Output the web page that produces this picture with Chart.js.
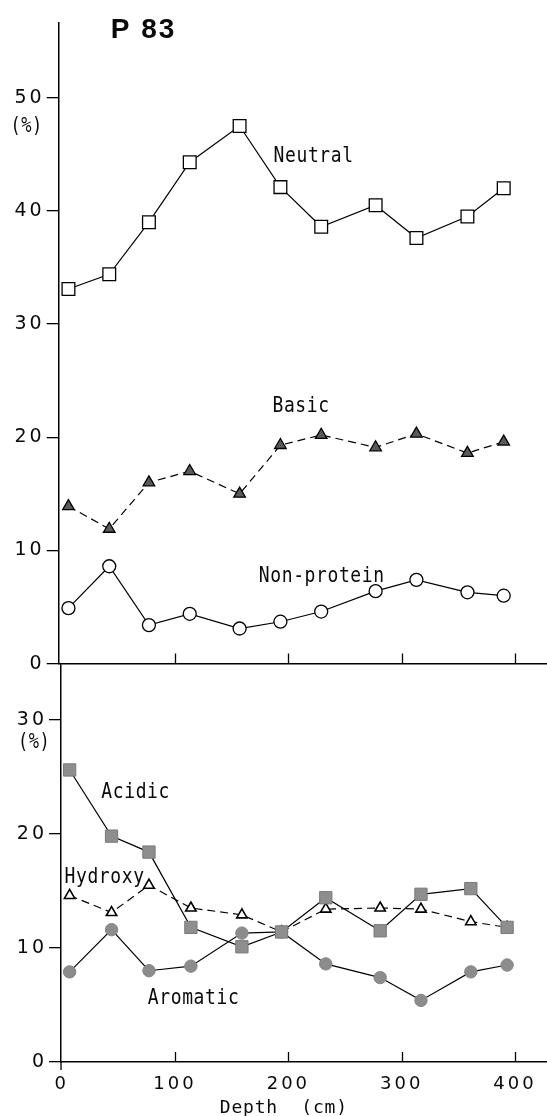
<!DOCTYPE html>
<html lang="en">
<head>
  <meta charset="UTF-8">
  <title>P 83 – amino acid groups vs depth</title>
  <script src="https://cdn.jsdelivr.net/npm/chart.js"></script>
  <style>
    body {
      margin: 0;
      background: #fff;
    }

    .sheet {
      position: relative;
      width: 547px;
      height: 1116px;
    }

    canvas {
      position: absolute;
      left: 0;
    }

    #topChart { top: 0; }
    #bottomChart { top: 645px; }
  </style>
</head>
<body>

  <div class="sheet">
    <canvas id="topChart" width="547" height="677"></canvas>
    <canvas id="bottomChart" width="547" height="471"></canvas>
  </div>

  <script>
    // sample depths (cm), read per panel
    const depthTop    = [6, 42, 77, 113, 157, 193, 229, 277, 313, 358, 390];
    const depthBottom = [7, 44, 77, 114, 159, 194, 233, 281, 317, 361, 393];

    // upper panel (%)
    const neutral    = [33.1, 34.4, 39.0, 44.3, 47.5, 42.1, 38.6, 40.5, 37.6, 39.5, 42.0];
    const basic      = [13.9, 11.9, 16.0, 17.0, 15.0, 19.3, 20.2, 19.1, 20.3, 18.6, 19.6];
    const nonProtein = [4.9, 8.6, 3.4, 4.4, 3.1, 3.7, 4.6, 6.4, 7.4, 6.3, 6.0];

    // lower panel (%)
    const acidic   = [25.6, 19.8, 18.4, 11.8, 10.1, 11.4, 14.4, 11.5, 14.7, 15.2, 11.8];
    const hydroxy  = [14.6, 13.1, 15.5, 13.5, 12.9, 11.4, 13.4, 13.5, 13.4, 12.3, 11.8];
    const aromatic = [7.9, 11.6, 8.0, 8.4, 11.3, 11.4, 8.6, 7.4, 5.4, 7.9, 8.5];

    // tick labels
    const xTicks       = [0, 100, 200, 300, 400];
    const yTicksTop    = [0, 10, 20, 30, 40, 50];
    const yTicksBottom = [0, 10, 20, 30];

    // where the curve names sit (data units)
    const notesTop = [
      { text: 'Neutral', x: 187, y: 44.3 },
      { text: 'Basic', x: 186, y: 22.2 },
      { text: 'Non-protein', x: 174, y: 7.2 }
    ];
    const notesBottom = [
      { text: 'Acidic', x: 35, y: 23.1 },
      { text: 'Hydroxy', x: 2.5, y: 15.7 },
      { text: 'Aromatic', x: 76, y: 5.1 }
    ];

    const INK = '#0a0a0a';

    // text on the panels + inward x ticks
    const panelText = {
      id: 'panelText',
      beforeDraw(chart) {
        chart.ctx.letterSpacing = '3px';
      },
      afterDatasetsDraw(chart, args, opts) {
        const ctx = chart.ctx;
        const { x, y } = chart.scales;
        const area = chart.chartArea;

        ctx.save();
        ctx.strokeStyle = '#000';
        ctx.lineWidth = 1.3;
        ctx.beginPath();
        xTicks.slice(1).forEach(v => {
          const px = Math.round(x.getPixelForValue(v)) + 0.5;
          ctx.moveTo(px, area.bottom);
          ctx.lineTo(px, area.bottom - 10);
        });
        if (opts.stub) {
          ctx.moveTo(area.left, area.bottom);
          ctx.lineTo(area.left, area.bottom + opts.stub);
        }
        ctx.stroke();

        ctx.fillStyle = INK;
        ctx.textBaseline = 'alphabetic';
        ctx.textAlign = 'left';
        ctx.font = '18px "DejaVu Sans Mono"';
        ctx.letterSpacing = '0.6px';
        opts.notes.forEach(n => {
          ctx.save();
          ctx.translate(x.getPixelForValue(n.x), y.getPixelForValue(n.y));
          ctx.scale(1, 1.15);
          ctx.fillText(n.text, 0, 0);
          ctx.restore();
        });

        // (%) unit under the top tick
        ctx.save();
        ctx.font = '17px "DejaVu Sans Mono"';
        ctx.letterSpacing = '0.5px';
        ctx.textAlign = 'center';
        ctx.textBaseline = 'middle';
        ctx.translate(x.getPixelForValue(opts.unit.x), y.getPixelForValue(opts.unit.y));
        ctx.scale(1, 1.2);
        ctx.fillText('(%)', 0, 0);
        ctx.restore();

        if (opts.title) {
          ctx.font = 'bold 28px "Liberation Sans"';
          ctx.letterSpacing = '2px';
          ctx.fillText(opts.title.text, x.getPixelForValue(opts.title.x), y.getPixelForValue(opts.title.y));
        }

        if (opts.axisTitle) {
          ctx.font = '18px "DejaVu Sans Mono"';
          ctx.letterSpacing = '0.8px';
          ctx.textAlign = 'center';
          ctx.fillText(opts.axisTitle.text, x.getPixelForValue(opts.axisTitle.x), area.bottom + opts.axisTitle.dy);
        }
        ctx.restore();
      },
      afterDraw(chart) {
        chart.ctx.letterSpacing = '0px';
      }
    };

    function series(label, depths, values, style) {
      return Object.assign({
        label: label,
        data: depths.map((d, i) => ({ x: d, y: values[i] })),
        borderColor: '#000',
        borderWidth: 1.2,
        pointBorderColor: '#000',
        pointBorderWidth: 1.3,
        tension: 0
      }, style);
    }

    function axes(xMin, yMax, yTicks, leftWidth, xHeight, showX) {
      return {
        x: {
          type: 'linear',
          min: xMin,
          max: 428.2,
          afterBuildTicks: s => { s.ticks = xTicks.map(v => ({ value: v })); },
          afterFit: s => { s.height = xHeight; },
          grid: { drawOnChartArea: false, drawTicks: false },
          border: { color: '#000', width: 1.5 },
          ticks: {
            display: showX,
            color: INK,
            padding: 12,
            font: { family: 'DejaVu Sans', size: 18 }
          }
        },
        y: {
          min: 0,
          max: yMax,
          afterBuildTicks: s => { s.ticks = yTicks.map(v => ({ value: v })); },
          afterFit: s => { s.width = leftWidth; },
          grid: { drawOnChartArea: false, tickLength: 12, color: '#000', lineWidth: 1.3 },
          border: { color: '#000', width: 1.5 },
          ticks: {
            color: INK,
            padding: 2,
            font: { family: 'DejaVu Sans', size: 19 }
          }
        }
      };
    }

    new Chart(document.getElementById('topChart'), {
      type: 'line',
      data: {
        datasets: [
          series('Neutral', depthTop, neutral, {
            pointStyle: 'rect', pointRadius: 9, pointBackgroundColor: '#fff'
          }),
          series('Basic', depthTop, basic, {
            borderDash: [8, 5], pointStyle: 'triangle', pointRadius: 6.7,
            pointBackgroundColor: '#5a5a5a'
          }),
          series('Non-protein', depthTop, nonProtein, {
            pointStyle: 'circle', pointRadius: 6.5, pointBackgroundColor: '#fff'
          })
        ]
      },
      options: {
        responsive: false,
        animation: false,
        layout: { autoPadding: false, padding: { top: 23, left: 0, right: 0, bottom: 0 } },
        plugins: {
          legend: { display: false },
          tooltip: { enabled: false },
          panelText: {
            notes: notesTop,
            unit: { x: -31, y: 47.4 },
            title: { text: 'P 83', x: 43.4, y: 55.3 }
          }
        },
        scales: axes(-2.6, 56.6, yTicksTop, 58.7, 12, false)
      },
      plugins: [panelText]
    });

    new Chart(document.getElementById('bottomChart'), {
      type: 'line',
      data: {
        datasets: [
          series('Acidic', depthBottom, acidic, {
            pointStyle: 'rect', pointRadius: 8.7,
            pointBackgroundColor: '#8e8e8e', pointBorderColor: '#7a7a7a', pointBorderWidth: 1
          }),
          series('Aromatic', depthBottom, aromatic, {
            pointStyle: 'circle', pointRadius: 6.2,
            pointBackgroundColor: '#8c8c8c', pointBorderColor: '#858585', pointBorderWidth: 1
          }),
          series('Hydroxy', depthBottom, hydroxy, {
            borderDash: [8, 5], pointStyle: 'triangle', pointRadius: 6,
            pointBackgroundColor: '#fff', pointBorderWidth: 1.6
          })
        ]
      },
      options: {
        responsive: false,
        animation: false,
        layout: { autoPadding: false, padding: { top: 20, left: 0, right: 0, bottom: 0 } },
        plugins: {
          legend: { display: false },
          tooltip: { enabled: false },
          panelText: {
            notes: notesBottom,
            unit: { x: -24.4, y: 28.0 },
            stub: 8,
            axisTitle: { text: 'Depth  (cm)', x: 196, dy: 51 }
          }
        },
        scales: axes(-0.6, 34.8, yTicksBottom, 61, 54, true)
      },
      plugins: [panelText]
    });
  </script>

</body>
</html>
